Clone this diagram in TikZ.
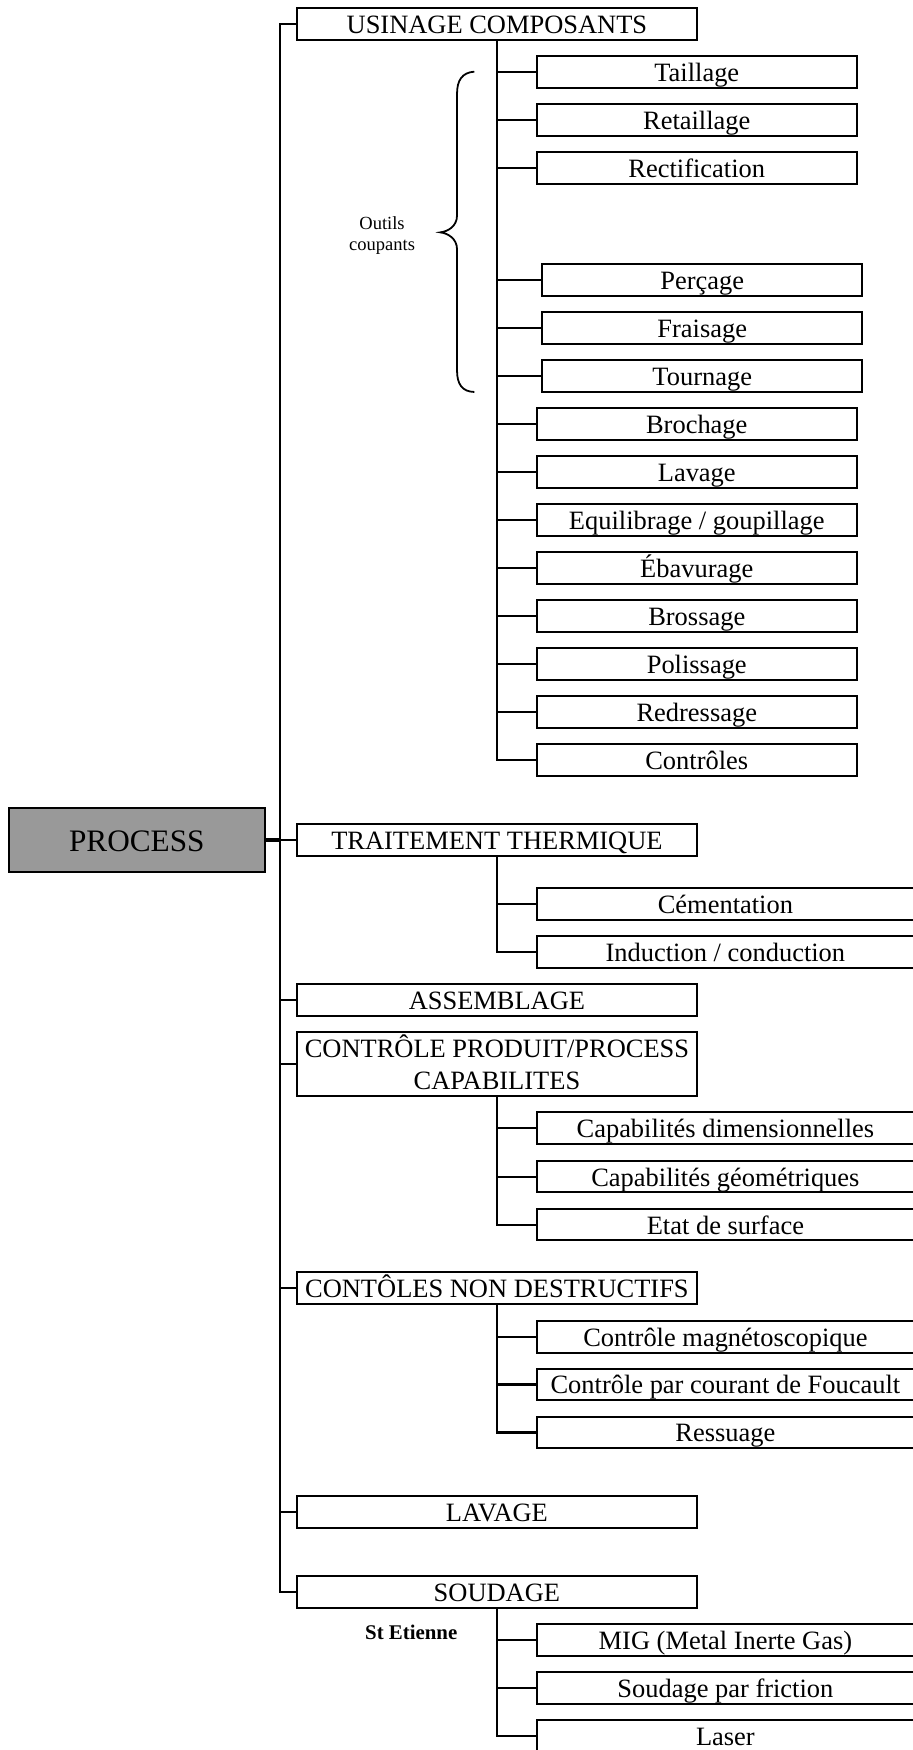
\documentclass[tikz,border=0pt]{standalone}
\usepackage{fontspec}
\setmainfont{Liberation Serif}
\definecolor{procgray}{RGB}{153,153,153}
\tikzset{
  ln/.style={line width=1.8pt},
  thickln/.style={line width=3.6pt},
  bx/.style={draw, line width=1.8pt, rectangle, inner sep=0pt, minimum height=28.5pt,
    text height=17.4pt, text depth=0.4pt, font=\fontsize{23.7}{29}\selectfont},
  lonebox/.style={bx, minimum width=358.5pt},
  subbox/.style={bx, minimum width=286.8pt},
  widebox/.style={bx, minimum width=338.1pt},
  procbox/.style={draw, line width=2pt, fill=procgray, inner sep=0pt, minimum width=229.6pt,
    minimum height=57.1pt, text height=20.6pt, text depth=0.4pt, font=\fontsize{28}{30}\selectfont},
  smalltext/.style={inner sep=0pt, align=center, font=\fontsize{16.6}{18.5}\selectfont},
  boldtext/.style={inner sep=0pt, font=\bfseries\fontsize{18.7}{20}\selectfont}
}
\begin{document}
\begin{tikzpicture}[x=1pt,y=-1pt]
\useasboundingbox (0,0) rectangle (818,1568);
\clip (0,0) rectangle (818,1568);

% root
\node[procbox] (proc) at (122.6,752.7) {PROCESS};

% level 1
\node[lonebox] (usi) at (445.25,21.5) {USINAGE COMPOSANTS};
\node[lonebox] (trait) at (445.25,752.7) {TRAITEMENT THERMIQUE};
\node[lonebox] (assem) at (445.25,896.1) {ASSEMBLAGE};
\node[lonebox, minimum height=57.6pt, align=center, text height=47.2pt, text depth=0.4pt] (ctrlpp) at (445.25,953.2) {CONTRÔLE PRODUIT/PROCESS\\CAPABILITES};
\node[lonebox] (cnd) at (445.25,1154.2) {CONTÔLES NON DESTRUCTIFS};
\node[lonebox] (lav) at (445.25,1354.9) {LAVAGE};
\node[lonebox] (soud) at (445.25,1426.5) {SOUDAGE};

% usinage children
\node[subbox] (tail) at (624.3,64.5) {Taillage};
\node[subbox] (retail) at (624.3,107.4) {Retaillage};
\node[subbox] (rect) at (624.3,150.2) {Rectification};
\node[subbox] (perc) at (629.2,250.9) {Perçage};
\node[subbox] (frai) at (629.2,293.9) {Fraisage};
\node[subbox] (tourn) at (629.2,336.9) {Tournage};
\node[subbox] (broch) at (624.3,380.0) {Brochage};
\node[subbox] (lavs) at (624.3,423.0) {Lavage};
\node[subbox] (equi) at (624.3,465.9) {Equilibrage / goupillage};
\node[subbox] (ebav) at (624.3,508.8) {Ébavurage};
\node[subbox] (bross) at (624.3,551.8) {Brossage};
\node[subbox] (poli) at (624.3,594.8) {Polissage};
\node[subbox] (redr) at (624.3,637.8) {Redressage};
\node[subbox] (ctrls) at (624.3,680.8) {Contrôles};

% traitement children
\node[widebox] (cem) at (649.95,810.1) {Cémentation};
\node[widebox] (induc) at (649.95,853.1) {Induction / conduction};

% controle produit children
\node[widebox] (capd) at (649.95,1011.0) {Capabilités dimensionnelles};
\node[widebox] (capg) at (649.95,1054.2) {Capabilités géométriques};
\node[widebox] (etat) at (649.95,1097.2) {Etat de surface};

% CND children
\node[widebox] (mag) at (649.95,1197.6) {Contrôle magnétoscopique};
\node[widebox] (fouc) at (649.95,1240.5) {Contrôle par courant de Foucault};
\node[widebox] (ress) at (649.95,1283.5) {Ressuage};

% soudage children
\node[widebox] (mig) at (649.95,1469.5) {MIG (Metal Inerte Gas)};
\node[widebox] (fric) at (649.95,1512.5) {Soudage par friction};
\node[widebox] (laser) at (649.95,1555.5) {Laser};

% annotations
\node[smalltext, anchor=north, text height=30.5pt, text depth=0pt] (outils) at (342.3,193.5) {Outils\\coupants};
\node[boldtext, anchor=base west] (ste) at (327,1468.8) {St Etienne};

% brace
\coordinate (brtop) at (425,64.2);
\coordinate (brbot) at (425,351.2);
\coordinate (brtip) at (394.5,208.2);
\draw[line width=1.6pt] (brtop) .. controls (414,65) and (409.5,72) .. (409.5,84)
  -- (409.5,193) .. controls (409.5,203) and (401,207.5) .. (brtip)
  .. controls (401,209) and (409.5,213.5) .. (409.5,223.5)
  -- (409.5,332) .. controls (409.5,344) and (414,351) .. (brbot);

% main trunk
\draw[ln] (usi.west) -- ++(-14.25,0) coordinate (trunktop) |- (soud.west);
\foreach \n in {trait,assem,ctrlpp,cnd,lav}
  \draw[ln] (\n.west) -- (\n.west -| trunktop);
\draw[thickln] (proc.east) -- (proc.east -| trunktop);

% usinage sub trunk
\draw[ln] (usi.south) |- (ctrls.west);
\foreach \n in {tail,retail,rect,perc,frai,tourn,broch,lavs,equi,ebav,bross,poli,redr}
  \draw[ln] (\n.west) -- (\n.west -| usi.south);

% traitement sub trunk
\draw[ln] (trait.south) |- (induc.west);
\draw[ln] (cem.west) -- (cem.west -| trait.south);

% controle produit sub trunk
\draw[ln] (ctrlpp.south) |- (etat.west);
\foreach \n in {capd,capg}
  \draw[ln] (\n.west) -- (\n.west -| ctrlpp.south);

% CND sub trunk
\draw[ln] (cnd.south) |- (ress.west);
\foreach \n in {mag,fouc}
  \draw[ln] (\n.west) -- (\n.west -| cnd.south);

% soudage sub trunk
\draw[ln] (soud.south) |- (laser.west);
\foreach \n in {mig,fric}
  \draw[ln] (\n.west) -- (\n.west -| soud.south);
\end{tikzpicture}
\end{document}
